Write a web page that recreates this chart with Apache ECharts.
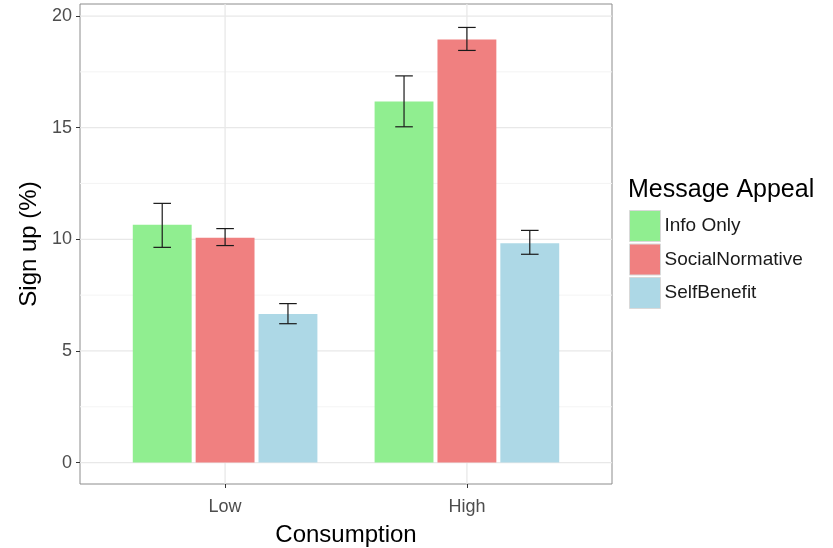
<!DOCTYPE html>
<html><head><meta charset="utf-8">
<script src="https://cdn.jsdelivr.net/npm/echarts@6/dist/echarts.min.js"></script>
<style>html,body{margin:0;padding:0;background:#fff}#c{width:833px;height:548px}</style>
</head><body><div id="c"></div>
<script>
const categories = ['Low', 'High'];
const groups = ['Info Only', 'SocialNormative', 'SelfBenefit'];
const infoOnly = [10.70, 16.22];
const infoOnlyLower = [9.64, 15.04];
const infoOnlyUpper = [11.61, 17.32];
const socialNormative = [10.12, 19.00];
const socialNormativeLower = [9.72, 18.46];
const socialNormativeUpper = [10.48, 19.49];
const selfBenefit = [6.70, 9.87];
const selfBenefitLower = [6.22, 9.33];
const selfBenefitUpper = [7.12, 10.40];
const yTicks = [0, 5, 10, 15, 20];
const yMinor = [2.5, 7.5, 12.5, 17.5];

const colors = ['#90EE90', '#F08080', '#ADD8E6'];
const values = [infoOnly, socialNormative, selfBenefit];
const lowers = [infoOnlyLower, socialNormativeLower, selfBenefitLower];
const uppers = [infoOnlyUpper, socialNormativeUpper, selfBenefitUpper];
const slot = 0.26;
const Y_MIN = -0.96, Y_MAX = 20.54;
const FONT = '"Liberation Sans", Arial, sans-serif';

const chart = echarts.init(document.getElementById('c'), null, {renderer: 'canvas'});

const gridSeries = {
  type: 'custom', name: '_grid', silent: true, z: 0,
  data: [0],
  renderItem: function (params, api) {
    const children = [];
    const x0 = api.coord([0.4, 0])[0], x1 = api.coord([2.6, 0])[0];
    const yb = api.coord([1, Y_MIN])[1], yt = api.coord([1, Y_MAX])[1];
    yMinor.forEach(v => {
      const y = api.coord([1, v])[1];
      children.push({type: 'line', shape: {x1: x0, y1: y, x2: x1, y2: y}, style: {stroke: '#f4f4f4', lineWidth: 1}});
    });
    yTicks.forEach(v => {
      const y = api.coord([1, v])[1];
      children.push({type: 'line', shape: {x1: x0, y1: y, x2: x1, y2: y}, style: {stroke: '#e8e8e8', lineWidth: 1.3}});
    });
    categories.forEach((c, i) => {
      const x = api.coord([i + 1, 0])[0];
      children.push({type: 'line', shape: {x1: x, y1: yb, x2: x, y2: yt}, style: {stroke: '#e8e8e8', lineWidth: 1.3}});
    });
    return {type: 'group', children: children};
  }
};

const barSeries = groups.map((g, gi) => ({
  type: 'custom', name: g, z: 2,
  itemStyle: {color: colors[gi]},
  data: categories.map((c, ci) => [ci + 1, values[gi][ci], lowers[gi][ci], uppers[gi][ci]]),
  encode: {x: 0, y: [1, 2, 3]},
  renderItem: function (params, api) {
    const cx = api.value(0) + (gi - 1) * slot;
    const pTL = api.coord([cx - slot / 2, api.value(1)]);
    const pBR = api.coord([cx + slot / 2, 0]);
    const pc = api.coord([cx, 0]);
    const lo = api.coord([cx, api.value(2)])[1];
    const hi = api.coord([cx, api.value(3)])[1];
    const w = 8.8;
    return {type: 'group', children: [
      {type: 'rect', shape: {x: pTL[0] + 2, y: pTL[1] + 1, width: pBR[0] - pTL[0] - 4, height: pBR[1] - pTL[1] - 1},
       style: {fill: colors[gi]}},
      {type: 'line', shape: {x1: pc[0], y1: lo, x2: pc[0], y2: hi}, style: {stroke: '#1a1a1a', lineWidth: 1.2}},
      {type: 'line', shape: {x1: pc[0] - w, y1: lo, x2: pc[0] + w, y2: lo}, style: {stroke: '#1a1a1a', lineWidth: 1.2}},
      {type: 'line', shape: {x1: pc[0] - w, y1: hi, x2: pc[0] + w, y2: hi}, style: {stroke: '#1a1a1a', lineWidth: 1.2}}
    ]};
  }
}));

chart.setOption({
  animation: false,
  backgroundColor: '#fff',
  textStyle: {fontFamily: FONT},
  title: {text: 'Message Appeal', left: 628, top: 178, padding: 0,
    textStyle: {fontFamily: FONT, fontSize: 25, fontWeight: 'normal', color: '#000'}},
  legend: {
    data: groups, orient: 'vertical', left: 629, top: 210, padding: 0,
    itemWidth: 31, itemHeight: 31, itemGap: 1.5, icon: 'rect',
    itemStyle: {borderColor: '#d9d9d9', borderWidth: 1},
    textStyle: {fontFamily: FONT, fontSize: 19, color: '#1a1a1a', padding: [5, 0, 0, -1]},
    selectedMode: false
  },
  grid: {left: 80, right: 221, top: 4, bottom: 64, show: true, borderColor: '#8c8c8c', borderWidth: 1, backgroundColor: 'transparent', containLabel: false, outerBoundsMode: 'none'},
  xAxis: {
    type: 'value', min: 0.4, max: 2.6,
    name: 'Consumption', nameLocation: 'middle', nameGap: 39,
    nameTextStyle: {fontFamily: FONT, fontSize: 24, color: '#000'},
    axisLine: {show: false, onZero: false},
    axisTick: {show: true, inside: false, length: 4, customValues: [1, 2], lineStyle: {color: '#333'}},
    axisLabel: {customValues: [1, 2], formatter: v => categories[Math.round(v) - 1], fontFamily: FONT, fontSize: 18, color: '#4d4d4d', margin: 14},
    splitLine: {show: false}
  },
  yAxis: {
    type: 'value', min: Y_MIN, max: Y_MAX,
    name: 'Sign up (%)', nameLocation: 'middle', nameGap: 30,
    nameTextStyle: {fontFamily: FONT, fontSize: 24, color: '#000'},
    axisLine: {show: false, onZero: false},
    axisTick: {show: true, inside: false, length: 4, customValues: yTicks, lineStyle: {color: '#333'}},
    axisLabel: {customValues: yTicks, fontFamily: FONT, fontSize: 18, color: '#4d4d4d', margin: 8},
    splitLine: {show: false}
  },
  series: [gridSeries].concat(barSeries)
});
</script></body></html>
